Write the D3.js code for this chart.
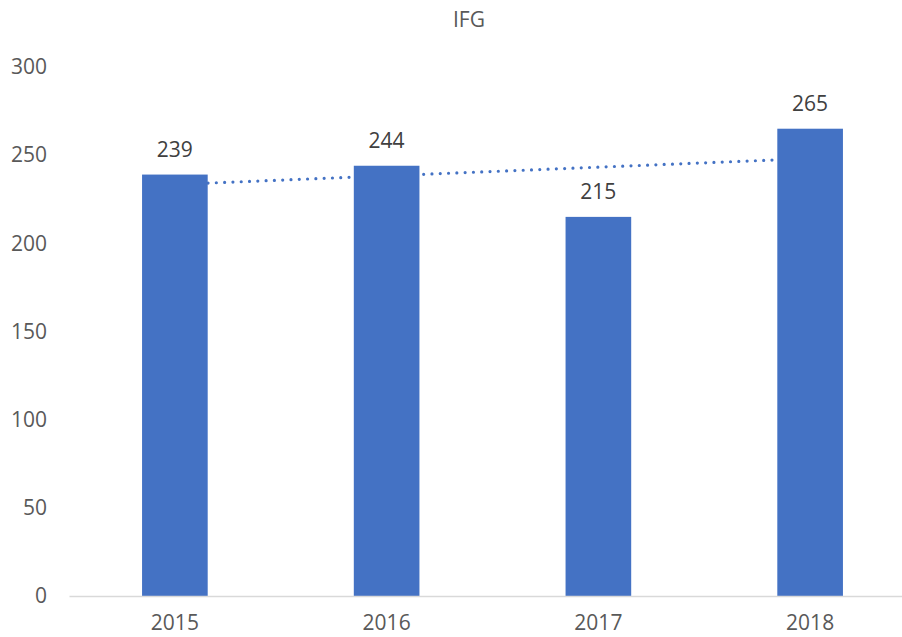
<!DOCTYPE html>
<html>
<head>
<meta charset="utf-8">
<script src="https://cdn.jsdelivr.net/npm/d3@7"></script>
<style>
  html, body { margin: 0; padding: 0; background: #fff; }
  svg { display: block; font-family: "Open Sans", "Noto Sans", sans-serif; }
</style>
</head>
<body>
<svg id="chart" width="902" height="637"></svg>
<script>
const title = "IFG";
const categories = ["2015", "2016", "2017", "2018"];
const values = [239, 244, 215, 265];
const yTicks = [0, 50, 100, 150, 200, 250, 300];

const svg = d3.select("#chart");
const textColor = "#595959";
const barColor = "#4472C4";

const x = d3.scaleBand().domain(categories).range([69, 916]).paddingInner(0.69).paddingOuter(0.345);
const y = d3.scaleLinear().domain([0, 300]).range([596, 67]);

// title
svg.append("text").attr("x", 469).attr("y", 27)
  .attr("text-anchor", "middle").attr("font-size", 21).attr("fill", textColor).text(title);

// y axis labels
const yAxis = d3.axisLeft(y).tickValues(yTicks).tickSize(0).tickPadding(0);
const gy = svg.append("g").attr("transform", "translate(47,0)").call(yAxis);
gy.select(".domain").remove();
gy.selectAll("text").attr("font-size", 21).attr("fill", textColor)
  .attr("font-family", "'Open Sans', sans-serif").attr("dy", "0.32em");

// linear trendline (least squares) through category indices
const xs = values.map((_, i) => i + 1);
const mx = d3.mean(xs), my = d3.mean(values);
const slope = d3.sum(xs.map((xi, i) => (xi - mx) * (values[i] - my))) / d3.sum(xs.map(xi => (xi - mx) ** 2));
const intercept = my - slope * mx;
const trend = categories.map((c, i) => ({ c, v: intercept + slope * (i + 1) }));
const line = d3.line().x(d => x(d.c) + x.bandwidth() / 2).y(d => y(d.v));
svg.append("path").datum(trend).attr("d", line)
  .attr("fill", "none").attr("stroke", barColor).attr("stroke-width", 3.2)
  .attr("stroke-linecap", "round").attr("stroke-dasharray", "0,8.3");

// bars
svg.append("g").selectAll("rect").data(values).join("rect")
  .attr("x", (d, i) => x(categories[i]))
  .attr("y", d => y(d))
  .attr("width", x.bandwidth())
  .attr("height", d => y(0) - y(d))
  .attr("fill", barColor);

// x axis
const xAxis = d3.axisBottom(x).tickSize(0).tickPadding(0);
const gx = svg.append("g").attr("transform", `translate(0,${y(0)})`).call(xAxis);
gx.select(".domain").attr("stroke", "#d9d9d9").attr("stroke-width", 1.5);
gx.selectAll("text").attr("font-size", 21).attr("fill", textColor)
  .attr("font-family", "'Open Sans', sans-serif").attr("y", 34).attr("dy", 0);

// data labels
svg.append("g").selectAll("text").data(values).join("text")
  .attr("x", (d, i) => x(categories[i]) + x.bandwidth() / 2)
  .attr("y", d => y(d) - 18)
  .attr("text-anchor", "middle").attr("font-size", 21).attr("fill", "#404040")
  .text(d => d);
</script>
</body>
</html>
